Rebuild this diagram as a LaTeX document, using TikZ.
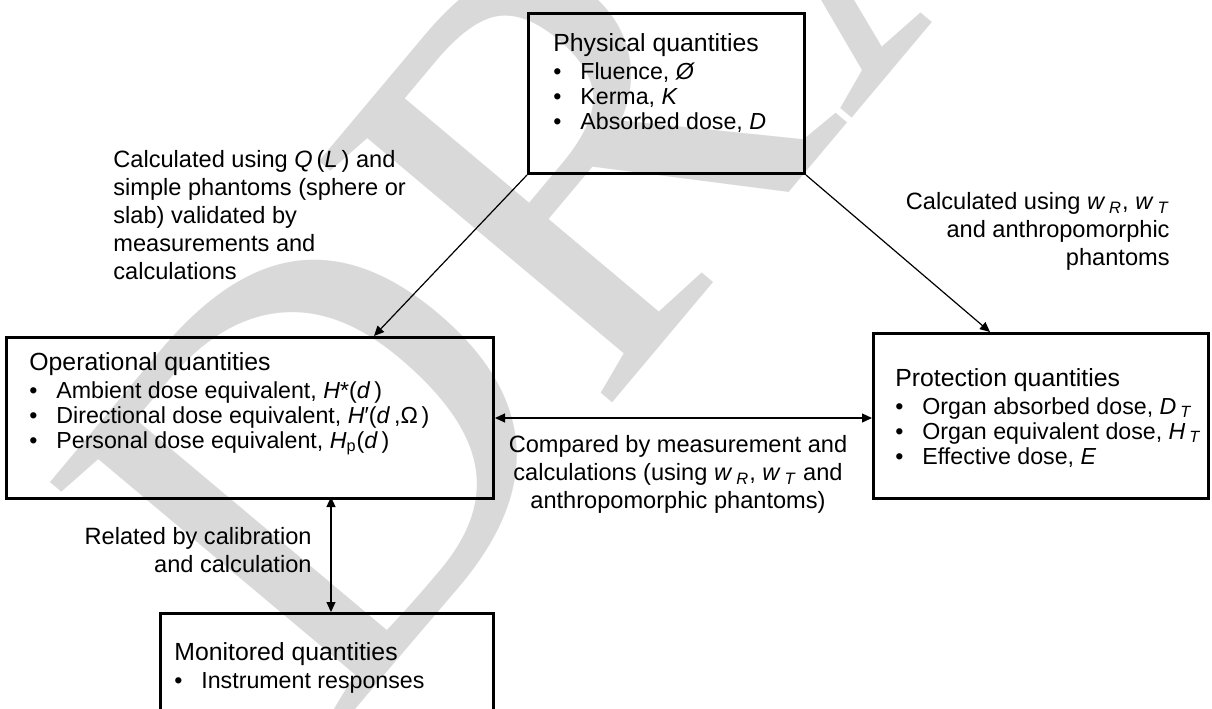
\documentclass[tikz,border=0pt]{standalone}
\usepackage{fontspec}
\setmainfont{Liberation Sans}
\newfontfamily\wmfont{Liberation Serif}
\usetikzlibrary{arrows.meta}

\newcommand{\bul}{\makebox[13.5pt][l]{•}}
\newcommand{\sub}[1]{\,\textsubscript{\textit{#1}}}
\newcommand{\ttl}[1]{{\fontsize{12.4}{12.5}\selectfont #1}}

\begin{document}
\begin{tikzpicture}[x=0.5pt,y=-0.5pt,
  box/.style={draw, line width=1.5pt, inner sep=0, anchor=north west},
  txt/.style={inner sep=0, anchor=north west, align=left, font=\fontsize{11.6}{12.5}\selectfont},
  lbl/.style={inner sep=0, font=\fontsize{11.8}{14}\selectfont},
  arr/.style={line width=0.6pt, -{Triangle[length=5pt,width=4.5pt]}},
  darr/.style={line width=0.6pt, {Triangle[length=5pt,width=4.5pt]}-{Triangle[length=5pt,width=4.5pt]}}]
\useasboundingbox (0,0) rectangle (1212,708);

% draft watermark
\node[rotate=50, anchor=base west, inner sep=0, text=black!15,
  font=\fontsize{290}{290}\wmfont] (wm) at (330,740) {DRAFT};

% the four boxes
\node[box, minimum width=138pt, minimum height=80pt] (phys) at (527,12) {};
\node[box, minimum width=243.5pt, minimum height=80.5pt] (oper) at (5,336) {};
\node[box, minimum width=167.5pt, minimum height=82.5pt] (prot) at (872,332) {};
\node[box, minimum width=166.5pt, minimum height=70pt] (mon) at (159,612) {};

% box contents
\node[txt] (physt) at (553,33) {\ttl{Physical quantities}\\[1.5pt]
  \bul Fluence, \textit{Ø}\\
  \bul Kerma, \textit{K}\\
  \bul Absorbed dose, \textit{D}};
\node[txt] (opert) at (29,352) {\ttl{Operational quantities}\\[1.5pt]
  \bul Ambient dose equivalent, \textit{H}*(\textit{d}\,)\\
  \bul Directional dose equivalent, \textit{H}′(\textit{d}\,,Ω\,)\\
  \bul Personal dose equivalent, \textit{H}\textsubscript{p}(\textit{d}\,)};
\node[txt] (prott) at (895,368) {\ttl{Protection quantities}\\[1.5pt]
  \bul Organ absorbed dose, \textit{D}\sub{T}\\
  \bul Organ equivalent dose, \textit{H}\sub{T}\\
  \bul Effective dose, \textit{E}};
\node[txt] (mont) at (174,642) {\ttl{Monitored quantities}\\[1.5pt]
  \bul Instrument responses};

% label the arrows
\node[lbl, anchor=north west, align=left] (lq) at (113,150) {Calculated using \textit{Q}\,(\textit{L}\,) and\\
  simple phantoms (sphere or\\slab) validated by\\measurements and\\calculations};
\node[lbl, anchor=north east, align=right] (lw) at (1170,192) {Calculated using \textit{w}\sub{R}, \textit{w}\sub{T}\\
  and anthropomorphic\\phantoms};
\node[lbl, anchor=north, align=center] (lc) at (678,435) {Compared by measurement and\\
  calculations (using \textit{w}\sub{R}, \textit{w}\sub{T} and\\anthropomorphic phantoms)};
\node[lbl, anchor=north east, align=right] (lr) at (312,527) {Related by calibration\\and calculation};

% arrow end points on the box tops
\coordinate (optop) at (374,336);
\coordinate (prtop) at (990,332);
\coordinate (opbot) at (331,497);
\coordinate (montop) at (331,612);

% draw the connectors
\draw[arr] (phys.south west) -- (optop);
\draw[arr] (phys.south east) -- (prtop);
\draw[darr] (oper.east) -- (oper.east -| prot.west);
\draw[darr] (opbot) -- (montop);

\end{tikzpicture}
\end{document}
